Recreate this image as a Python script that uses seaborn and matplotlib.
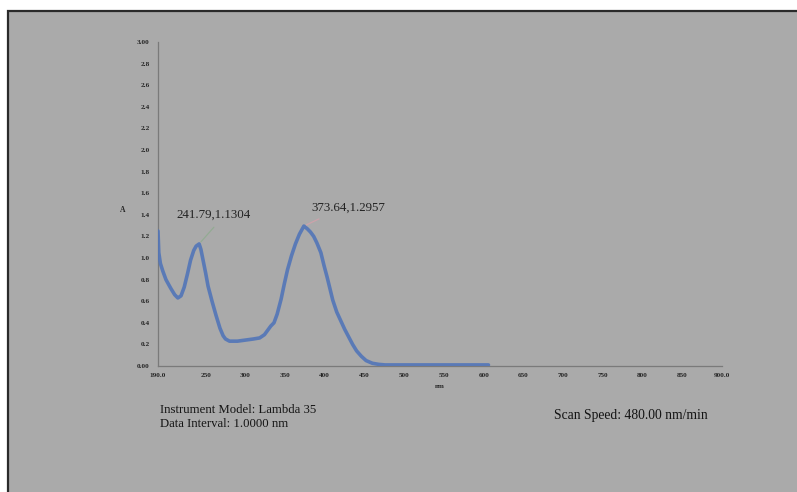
import matplotlib
matplotlib.use("Agg")
import matplotlib.pyplot as plt
import seaborn as sns
import pandas as pd
from matplotlib.patches import Rectangle

# UV-Vis scan, wavelength (nm) vs absorbance (A)
wavelength = [190, 191, 193, 196, 200, 206, 211, 215, 219, 223, 227, 231, 235,
              238, 241.79, 244, 247, 250, 253, 258, 263, 268, 272, 275, 280,
              290, 300, 310, 318, 324, 328, 332, 336, 340, 345, 349, 353, 358,
              363, 368, 373.64, 378, 382, 386, 390, 395, 399, 403, 407, 410,
              415, 420, 425, 430, 435, 440, 446, 452, 460, 468, 476, 490, 520,
              560, 606]
absorbance = [1.25, 1.05, 0.95, 0.88, 0.80, 0.72, 0.66, 0.63, 0.65, 0.73,
              0.85, 0.98, 1.07, 1.11, 1.1304, 1.08, 0.97, 0.86, 0.74, 0.60,
              0.47, 0.35, 0.28, 0.25, 0.23, 0.23, 0.24, 0.25, 0.26, 0.29,
              0.33, 0.37, 0.40, 0.48, 0.62, 0.76, 0.89, 1.02, 1.13, 1.22,
              1.2957, 1.27, 1.24, 1.20, 1.14, 1.05, 0.93, 0.82, 0.70, 0.61,
              0.50, 0.42, 0.34, 0.27, 0.20, 0.14, 0.09, 0.05, 0.025, 0.015,
              0.01, 0.01, 0.01, 0.01, 0.01]

x_ticks = [190, 250, 300, 350, 400, 450, 500, 550, 600, 650, 700, 750, 800, 850, 900]
x_tick_labels = ["190.0", "250", "300", "350", "400", "450", "500", "550", "600",
                 "650", "700", "750", "800", "850", "900.0"]
y_ticks = [0.0, 0.2, 0.4, 0.6, 0.8, 1.0, 1.2, 1.4, 1.6, 1.8, 2.0, 2.2, 2.4,
           2.6, 2.8, 3.0]
y_tick_labels = ["0.00", "0.2", "0.4", "0.6", "0.8", "1.0", "1.2", "1.4", "1.6",
                 "1.8", "2.0", "2.2", "2.4", "2.6", "2.8", "3.00"]

peak_1 = (241.79, 1.1304)
peak_2 = (373.64, 1.2957)

df = pd.DataFrame({"nm": wavelength, "A": absorbance})

sns.set_theme(style="white")
plt.rcParams["font.family"] = ["Liberation Serif", "DejaVu Serif"]

BG = "#aaaaaa"
INK = "#262626"
fig = plt.figure(figsize=(7.97, 4.92), dpi=100, facecolor="white")
fig.patches.append(Rectangle((8 / 797, -0.01), 1.0, 1 - 11 / 492 + 0.01,
                             transform=fig.transFigure, facecolor=BG,
                             edgecolor="#2a2a2a", linewidth=1.6, zorder=-5))

ax = fig.add_axes([158 / 797, (492 - 366) / 492, (722 - 158) / 797, (366 - 42) / 492])
ax.set_facecolor("none")
ax.set_zorder(2)

sns.lineplot(data=df, x="nm", y="A", ax=ax, color="#5275b8", linewidth=2.6,
             alpha=0.9, zorder=3)

ax.set_xlim(190, 900)
ax.set_ylim(0, 3.0)
ax.set_xticks(x_ticks)
ax.set_xticklabels(x_tick_labels, fontsize=5.2, fontweight="bold", color=INK)
ax.set_yticks(y_ticks)
ax.set_yticklabels(y_tick_labels, fontsize=5.2, fontweight="bold", color=INK)
ax.tick_params(axis="both", direction="in", length=2, width=0.6, color="#777777", pad=6)
ax.tick_params(axis="x", pad=5)

for side in ("top", "right"):
    ax.spines[side].set_visible(False)
for side in ("left", "bottom"):
    ax.spines[side].set_color("#7a7a7a")
    ax.spines[side].set_linewidth(0.9)

ax.set_xlabel("nm", fontsize=5, fontweight="bold", color=INK, labelpad=4)
ax.set_ylabel("A", fontsize=5.5, fontweight="bold", color=INK, rotation=0,
              labelpad=0)
ax.yaxis.set_label_coords(-0.063, 0.47)

# peak annotations with leader lines from the label's lower edge
ax.annotate(f"{peak_1[0]:.2f},{peak_1[1]:.4f}", xy=peak_1, xytext=(260, 1.40),
            fontsize=9.3, color="#222222", ha="center", va="center",
            arrowprops=dict(arrowstyle="-", color="#93ab93", lw=0.9,
                            relpos=(0.58, 0.0), shrinkA=3, shrinkB=2), zorder=4)
ax.annotate(f"{peak_2[0]:.2f},{peak_2[1]:.4f}", xy=peak_2, xytext=(430, 1.47),
            fontsize=9.3, color="#222222", ha="center", va="center",
            arrowprops=dict(arrowstyle="-", color="#cda2aa", lw=0.9,
                            relpos=(0.26, 0.0), shrinkA=4, shrinkB=2), zorder=4)

# instrument info
fig.text(160 / 797, 1 - 410 / 492, "Instrument Model: Lambda 35", fontsize=9.2,
         color="#141414", ha="left", va="center")
fig.text(160 / 797, 1 - 424 / 492, "Data Interval: 1.0000 nm", fontsize=9.2,
         color="#141414", ha="left", va="center")
fig.text(554 / 797, 1 - 415 / 492, "Scan Speed: 480.00 nm/min", fontsize=9.8,
         color="#141414", ha="left", va="center")

fig.savefig("out.png", dpi=100, facecolor=fig.get_facecolor())
